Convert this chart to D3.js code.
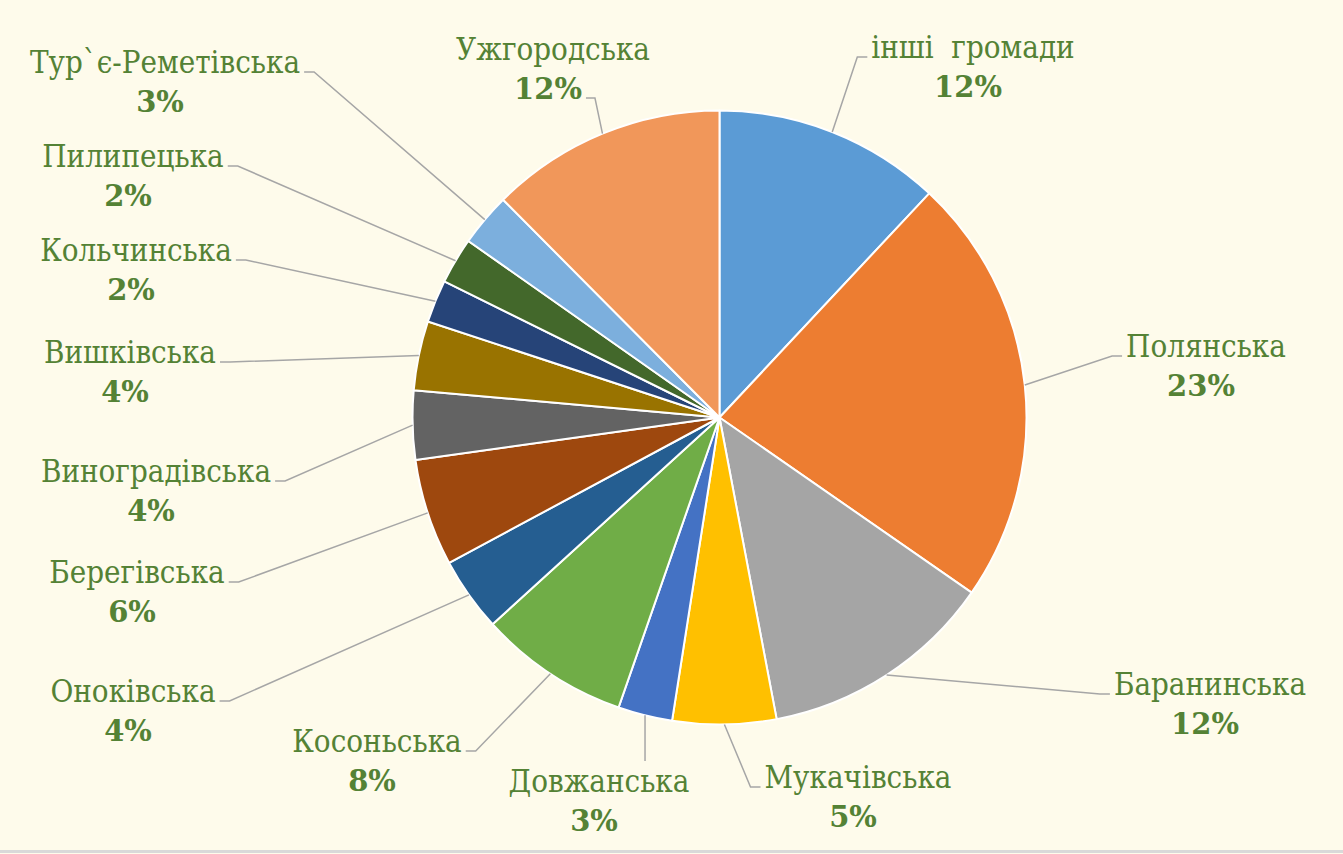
<!DOCTYPE html>
<html>
<head>
<meta charset="utf-8">
<script src="https://cdn.jsdelivr.net/npm/d3@7"></script>
<style>
  html, body { margin: 0; padding: 0; background: #FEFBEB; }
  .name { font-family: 'DejaVu Serif Condensed', 'DejaVu Serif', serif; font-stretch: condensed; font-size: 31px; fill: #548235; white-space: pre; }
  .pct { font-family: 'DejaVu Serif', serif; font-weight: bold; font-size: 29px; fill: #548235; }
</style>
</head>
<body>
<div class="chart"></div>
<script>
var W = 1343, H = 854;

// share of each community, clockwise from 12 o'clock
var names = ["інші  громади", "Полянська", "Баранинська", "Мукачівська", "Довжанська", "Косоньська",
  "Оноківська", "Берегівська", "Виноградівська", "Вишківська", "Кольчинська", "Пилипецька",
  "Тур`є-Реметівська", "Ужгородська"];
var values = [11.97, 22.69, 12.36, 5.45, 2.86, 7.91, 3.91, 5.64, 3.63, 3.64, 2.25, 2.44, 2.80, 12.45];
var colors = ["#5B9BD5", "#ED7D31", "#A5A5A5", "#FFC000", "#4472C4", "#70AD47", "#255E91",
  "#9E480E", "#636363", "#997300", "#264478", "#43682B", "#7CAFDD", "#F1975A"];

// where each label sits (text centre x, name baseline y) and how its leader attaches
var labelLayout = [
  { x: 973, y: 58, hook: "nameLeft" },
  { x: 1206, y: 357, hook: "nameLeft" },
  { x: 1210, y: 695, hook: "nameLeft" },
  { x: 858, y: 788, hook: "nameLeft" },
  { x: 599, y: 792, hook: "top" },
  { x: 377, y: 752, hook: "nameRight" },
  { x: 133, y: 702, hook: "nameRight" },
  { x: 137, y: 583, hook: "nameRight" },
  { x: 156, y: 482, hook: "nameRight" },
  { x: 130, y: 363, hook: "nameRight" },
  { x: 136, y: 261, hook: "nameRight" },
  { x: 133, y: 167, hook: "nameRight" },
  { x: 165, y: 73, hook: "nameRight" },
  { x: 553, y: 60, hook: "pctRight" }
];

var cx = 719.5, cy = 417.5, r = 307;

var svg = d3.select(".chart").append("svg")
  .attr("width", W).attr("height", H);

svg.append("rect").attr("width", W).attr("height", H).attr("fill", "#FEFBEB");
svg.append("line")
  .attr("x1", 0).attr("x2", W).attr("y1", 851.5).attr("y2", 851.5)
  .attr("stroke", "#D9D9D9").attr("stroke-width", 3);

var data = names.map((n, i) => ({ name: n, value: values[i], color: colors[i], lay: labelLayout[i] }));

var pie = d3.pie().sort(null).value(d => d.value);
var arcs = pie(data);
var arc = d3.arc().innerRadius(0).outerRadius(r);

var g = svg.append("g").attr("transform", "translate(" + cx + "," + cy + ")");
var lines = svg.append("g");

g.selectAll("path")
  .data(arcs)
  .enter()
  .append("path")
  .attr("d", arc)
  .attr("fill", d => d.data.color)
  .attr("stroke", "#FFFFFF")
  .attr("stroke-width", 2)
  .attr("stroke-linejoin", "round");

var labels = svg.append("g");

arcs.forEach(function (a) {
  var lay = a.data.lay;
  var nameT = labels.append("text")
    .attr("class", "name")
    .attr("x", lay.x).attr("y", lay.y)
    .attr("text-anchor", "middle")
    .text(a.data.name);
  var pctT = labels.append("text")
    .attr("class", "pct")
    .attr("x", lay.x - 5).attr("y", lay.y + 39)
    .attr("text-anchor", "middle")
    .text(Math.round(a.data.value) + "%");

  // edge point of the slice at its middle angle
  var mid = (a.startAngle + a.endAngle) / 2;
  var ex = cx + r * Math.sin(mid), ey = cy - r * Math.cos(mid);

  var nb = nameT.node().getBBox(), pb = pctT.node().getBBox();
  var pts;
  if (lay.hook === "nameRight") {
    pts = [[nb.x + nb.width + 4, lay.y - 1], [nb.x + nb.width + 14, lay.y - 1], [ex, ey]];
  } else if (lay.hook === "nameLeft") {
    pts = [[nb.x - 4, lay.y - 1], [nb.x - 14, lay.y - 1], [ex, ey]];
  } else if (lay.hook === "pctRight") {
    pts = [[pb.x + pb.width + 4, lay.y + 38], [pb.x + pb.width + 13, lay.y + 38], [ex, ey]];
  } else {
    pts = [[ex, nb.y - 2], [ex, ey]];
  }
  lines.append("path")
    .attr("d", d3.line()(pts))
    .attr("fill", "none")
    .attr("stroke", "#A6A6A6")
    .attr("stroke-width", 1.5);
});
</script>
</body>
</html>
